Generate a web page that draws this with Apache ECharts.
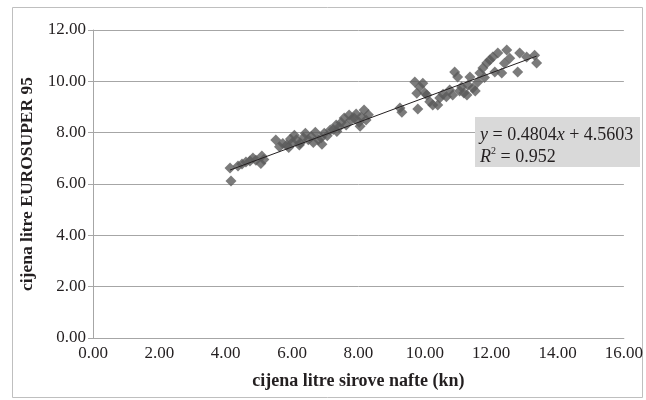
<!DOCTYPE html>
<html>
<head>
<meta charset="utf-8">
<script src="https://cdn.jsdelivr.net/npm/echarts@6/dist/echarts.min.js"></script>
<style>html,body{margin:0;padding:0;background:#fff}#c{width:646px;height:400px}</style>
</head>
<body>
<div id="c"></div>
<script>
// crude oil price per litre (kn)
const crudePrice = [
  4.13,4.16,4.37,4.49,4.61,4.73,4.82,4.91,5.06,5.09,5.15,
  5.51,5.62,5.72,5.84,5.90,5.95,6.01,6.07,6.13,6.22,6.25,6.34,6.40,6.49,6.58,6.64,6.70,6.79,6.88,6.90,6.97,
  7.06,7.15,7.24,7.33,7.35,7.42,7.48,7.57,7.63,7.72,7.78,7.87,7.93,8.02,8.05,8.08,8.17,8.23,8.30,
  9.25,9.31,
  9.70,9.76,9.85,9.79,9.94,10.00,10.06,10.15,10.24,10.39,10.45,10.55,10.65,10.75,10.84,10.90,10.99,
  11.05,11.11,11.18,11.27,11.30,11.36,11.45,11.52,11.60,11.66,11.75,11.80,11.87,11.96,
  12.05,12.11,12.20,12.32,12.40,12.47,12.56,12.80,12.86,13.07,13.31,13.37
];
// EUROSUPER 95 price per litre (kn)
const petrolPrice = [
  6.62,6.12,6.70,6.78,6.86,6.90,7.01,6.93,6.80,7.09,6.95,
  7.71,7.45,7.58,7.52,7.42,7.75,7.62,7.90,7.72,7.52,7.60,7.80,7.98,7.72,7.85,7.62,8.02,7.72,7.80,7.55,7.98,
  7.88,8.10,8.12,8.30,8.05,8.22,8.40,8.57,8.30,8.69,8.50,8.57,8.73,8.41,8.25,8.61,8.88,8.49,8.70,
  8.96,8.80,
  9.97,9.54,9.78,8.92,9.93,9.55,9.47,9.20,9.08,9.08,9.35,9.50,9.40,9.66,9.47,10.36,10.17,
  9.62,9.78,9.55,9.47,9.85,10.17,9.74,9.62,9.97,10.32,10.52,10.15,10.71,10.83,
  10.95,10.36,11.10,10.32,10.70,11.22,10.90,10.36,11.10,10.95,11.02,10.71
];
const yTicks = [0, 2, 4, 6, 8, 10, 12];
const xTicks = [0, 2, 4, 6, 8, 10, 12, 14, 16];
const trendSlope = 0.4804;
const trendIntercept = 4.5603;

const points = crudePrice.map((x, i) => [x, petrolPrice[i]]);
const xMin = Math.min(...crudePrice), xMax = Math.max(...crudePrice);
const trend = [[xMin, trendSlope * xMin + trendIntercept], [xMax, trendSlope * xMax + trendIntercept]];

const font = '"Liberation Serif", "DejaVu Serif", serif';
const chart = echarts.init(document.getElementById('c'), null, {renderer: 'canvas'});
chart.setOption({
  animation: false,
  backgroundColor: '#fff',
  grid: {left: 93, right: 22, top: 30, bottom: 62},
  xAxis: {
    type: 'value', min: xTicks[0], max: xTicks[xTicks.length - 1], interval: 2,
    name: 'cijena litre sirove nafte (kn)', nameLocation: 'middle', nameGap: 34,
    nameTextStyle: {fontFamily: font, fontSize: 18, fontWeight: 'bold', color: '#231f20'},
    axisLine: {show: true, lineStyle: {color: '#a6a6a6', width: 1}},
    axisTick: {show: false},
    splitLine: {show: false},
    axisLabel: {fontFamily: font, fontSize: 17, color: '#231f20', margin: 7, formatter: v => v.toFixed(2)}
  },
  yAxis: {
    type: 'value', min: yTicks[0], max: yTicks[yTicks.length - 1], interval: 2,
    name: 'cijena litre EUROSUPER 95', nameLocation: 'middle', nameGap: 56,
    nameTextStyle: {fontFamily: font, fontSize: 17.5, fontWeight: 'bold', color: '#231f20'},
    axisLine: {show: true, lineStyle: {color: '#a6a6a6', width: 1}},
    axisTick: {show: true, length: 5, inside: false, lineStyle: {color: '#a6a6a6'}},
    splitLine: {show: true, lineStyle: {color: '#a6a6a6', width: 1}},
    axisLabel: {fontFamily: font, fontSize: 17, color: '#231f20', margin: 7, formatter: v => v.toFixed(2)}
  },
  series: [
    {
      type: 'scatter', data: points, symbol: 'diamond', symbolSize: 11,
      itemStyle: {color: '#5a5a5a'}, z: 2
    },
    {
      type: 'line', data: trend, symbol: 'none', showSymbol: false,
      lineStyle: {color: '#231f20', width: 1}, z: 3
    }
  ],
  graphic: [
    {type: 'rect', left: 10, top: 5, shape: {width: 630, height: 390},
     style: {fill: 'none', stroke: '#bfbfbf', lineWidth: 1}, z: 0},
    {type: 'rect', left: 475, top: 117, shape: {width: 165, height: 50},
     style: {fill: '#d9d9d9'}, z: 10},
    {type: 'text', left: 480, top: 124, z: 11,
     style: {
       text: '{i|y} = 0.4804{i|x} + 4.5603\n{i|R}{s|2} = 0.952',
       font: '18px ' + font, fill: '#231f20', lineHeight: 22,
       rich: {
         i: {fontStyle: 'italic', fontFamily: font, fontSize: 18, fill: '#231f20', lineHeight: 22},
         s: {fontFamily: font, fontSize: 10, verticalAlign: 'top', fill: '#231f20', lineHeight: 22}
       }
     }}
  ]
});
</script>
</body>
</html>
